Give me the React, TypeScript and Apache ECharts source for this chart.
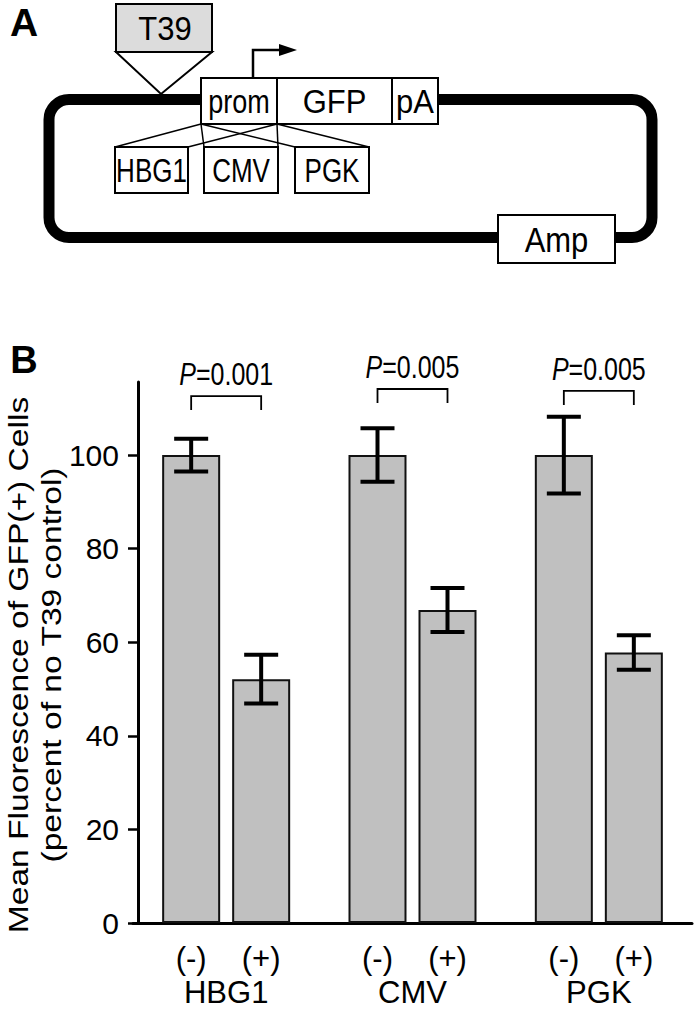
import React, { useEffect, useRef } from 'react';
import * as echarts from 'echarts';

// ---------- data ----------
const groups = ['HBG1', 'CMV', 'PGK'];
const conditions = ['(-)', '(+)'];
const minusMeans = [100, 100, 100];
const plusMeans = [52.1, 66.9, 57.8];
const minusErr = [3.5, 5.7, 8.2];
const plusErr = [5.2, 4.7, 3.7];
const pValues = ['0.001', '0.005', '0.005'];
const bracketLevels = [112.6, 114.1, 113.7];
const yTicks = [0, 20, 40, 60, 80, 100];
const promoters = ['HBG1', 'CMV', 'PGK'];

const FONT = '"Liberation Sans", Arial, Helvetica, sans-serif';
const BAR_W = 58;
const BAR_GAP_PX = 12;
const HALF = (BAR_W + BAR_GAP_PX) / 2;

function txt(text: string, x: number, y: number, size: number, opts: any = {}) {
  return {
    type: 'text',
    x,
    y,
    rotation: opts.rotation || 0,
    scaleX: opts.scaleX || 1,
    scaleY: opts.scaleY || 1,
    z: 20,
    style: {
      text,
      x: 0,
      y: 0,
      font: `${opts.weight || 'normal'} ${size}px ${FONT}`,
      fontSize: size,
      fontFamily: FONT,
      fontWeight: opts.weight || 'normal',
      fill: '#000',
      align: opts.align || 'center',
      verticalAlign: 'middle',
      textAlign: opts.align || 'center',
      textVerticalAlign: 'middle',
    },
  };
}

function box(x: number, y: number, w: number, h: number, fill = '#fff') {
  return {
    type: 'rect',
    z: 10,
    shape: { x, y, width: w, height: h },
    style: { fill, stroke: '#000', lineWidth: 2 },
  };
}

function seg(x1: number, y1: number, x2: number, y2: number, w = 1.5) {
  return {
    type: 'line',
    z: 9,
    shape: { x1, y1, x2, y2 },
    style: { stroke: '#000', lineWidth: w },
  };
}

function panelA() {
  const els: any[] = [];
  // plasmid backbone
  els.push({
    type: 'rect',
    z: 5,
    shape: { x: 49, y: 99.5, width: 603, height: 138, r: 20 },
    style: { fill: 'none', stroke: '#000', lineWidth: 11 },
  });
  // T39 insert
  els.push(box(116, 4, 96, 48, '#dcdcdc'));
  els.push({
    type: 'polygon',
    z: 10,
    shape: { points: [[116, 52], [212, 52], [161, 94]] },
    style: { fill: '#fff', stroke: '#000', lineWidth: 2 },
  });
  els.push(txt('T39', 165, 28, 31, { scaleY: 1.1 }));
  // expression cassette
  els.push(box(201, 78, 76, 46));
  els.push(box(277, 78, 115, 46));
  els.push(box(392, 78, 46, 46));
  els.push(txt('prom', 239, 101, 27, { scaleY: 1.25 }));
  els.push(txt('GFP', 334.5, 101, 31, { scaleY: 1.1 }));
  els.push(txt('pA', 415, 101, 31, { scaleY: 1.1 }));
  // transcription arrow
  els.push({
    type: 'polyline',
    z: 10,
    shape: { points: [[253, 78], [253, 50], [284, 50]] },
    style: { stroke: '#000', lineWidth: 2.5, fill: 'none' },
  });
  els.push({
    type: 'polygon',
    z: 10,
    shape: { points: [[279, 44], [297, 50], [279, 56]] },
    style: { fill: '#000' },
  });
  // promoter choices
  const pBoxes = [
    [115, 73],
    [204, 74],
    [295, 74],
  ];
  pBoxes.forEach(([bx, bw], i) => {
    els.push(seg(201, 124, bx, 147));
    els.push(seg(277, 124, bx + bw, 147));
    els.push(box(bx, 147, bw, 46));
    els.push(txt(promoters[i], bx + bw / 2, 170, 26, { scaleY: 1.3 }));
  });
  // Amp
  els.push(box(498, 215, 117, 48));
  els.push(txt('Amp', 556.5, 240, 31, { scaleY: 1.15 }));
  // panel letters
  els.push(txt('A', 24, 22, 39, { weight: 'bold' }));
  els.push(txt('B', 24, 360, 38, { weight: 'bold' }));
  // y axis title
  els.push(
    txt('Mean Fluorescence of GFP(+) Cells', 18, 665, 28, {
      rotation: Math.PI / 2,
      scaleX: 1.2,
    })
  );
  els.push(
    txt('(percent of no T39 control)', 51, 665, 28, {
      rotation: Math.PI / 2,
      scaleX: 1.2,
    })
  );
  return els;
}

function errorSeries(means: number[], errs: number[], sign: number) {
  return {
    type: 'custom',
    z: 6,
    silent: true,
    clip: false,
    data: means.map((m, i) => [i, m - errs[i], m + errs[i]]),
    encode: { x: 0, y: [1, 2] },
    renderItem: (_p: any, api: any) => {
      const lo = api.coord([api.value(0), api.value(1)]);
      const hi = api.coord([api.value(0), api.value(2)]);
      const x = lo[0] + sign * HALF;
      const st = { stroke: '#000', lineWidth: 4 };
      return {
        type: 'group',
        children: [
          { type: 'line', shape: { x1: x, y1: lo[1], x2: x, y2: hi[1] }, style: st },
          { type: 'line', shape: { x1: x - 17, y1: hi[1], x2: x + 17, y2: hi[1] }, style: st },
          { type: 'line', shape: { x1: x - 17, y1: lo[1], x2: x + 17, y2: lo[1] }, style: st },
        ],
      };
    },
  };
}

function bracketSeries() {
  return {
    type: 'custom',
    z: 6,
    silent: true,
    clip: false,
    data: bracketLevels.map((v, i) => [i, v]),
    encode: { x: 0, y: 1 },
    renderItem: (p: any, api: any) => {
      const c = api.coord([api.value(0), api.value(1)]);
      const xl = c[0] - HALF;
      const xr = c[0] + HALF;
      const y = c[1];
      return {
        type: 'group',
        children: [
          {
            type: 'polyline',
            shape: { points: [[xl, y + 14], [xl, y], [xr, y], [xr, y + 14]] },
            style: { stroke: '#000', lineWidth: 1.8, fill: 'none' },
          },
          {
            type: 'text',
            x: c[0],
            y: y - 22,
            scaleY: 1.25,
            style: {
              text: '{i|P}=' + pValues[p.dataIndex],
              x: 0,
              y: 0,
              fontSize: 25,
              fontFamily: FONT,
              fill: '#000',
              align: 'center',
              verticalAlign: 'middle',
              rich: {
                i: { fontStyle: 'italic', fontSize: 25, fontFamily: FONT, fill: '#000' },
              },
            },
          },
        ],
      };
    },
  };
}

export default function App() {
  const ref = useRef<HTMLDivElement>(null);
  useEffect(() => {
    document.body.style.margin = '0';
    const chart = echarts.init(ref.current!, null, { renderer: 'svg' });
    const barLabel = {
      show: true,
      position: 'bottom',
      distance: 20,
      formatter: '{a}',
      fontSize: 31,
      fontFamily: FONT,
      color: '#000',
    };
    chart.setOption({
      animation: false,
      backgroundColor: '#fff',
      textStyle: { fontFamily: FONT },
      grid: { left: 133, right: 8, top: 382, bottom: 86, containLabel: false },
      xAxis: {
        type: 'category',
        data: groups,
        axisLine: { show: true, lineStyle: { color: '#000', width: 3 } },
        axisTick: { show: false },
        axisLabel: { fontSize: 31, color: '#000', margin: 54, fontFamily: FONT },
        splitLine: { show: false },
      },
      yAxis: {
        type: 'value',
        min: 0,
        max: 115.6,
        offset: -5,
        axisLine: { show: true, lineStyle: { color: '#000', width: 3 } },
        axisTick: {
          show: true,
          length: 10,
          customValues: yTicks,
          lineStyle: { color: '#000', width: 2.5 },
        },
        axisLabel: {
          customValues: yTicks,
          fontSize: 30,
          color: '#000',
          margin: 19,
          fontFamily: FONT,
          padding: [14, 0, 0, 0],
        },
        splitLine: { show: false },
      },
      series: [
        {
          name: conditions[0],
          type: 'bar',
          data: minusMeans,
          barWidth: BAR_W,
          barGap: ((BAR_GAP_PX / BAR_W) * 100).toFixed(1) + '%',
          itemStyle: { color: '#c0c0c0', borderColor: '#111', borderWidth: 2 },
          label: barLabel,
          z: 3,
        },
        {
          name: conditions[1],
          type: 'bar',
          data: plusMeans,
          barWidth: BAR_W,
          barGap: ((BAR_GAP_PX / BAR_W) * 100).toFixed(1) + '%',
          itemStyle: { color: '#c0c0c0', borderColor: '#111', borderWidth: 2 },
          label: barLabel,
          z: 3,
        },
        errorSeries(minusMeans, minusErr, -1),
        errorSeries(plusMeans, plusErr, 1),
        bracketSeries(),
      ],
      graphic: panelA(),
    });
    return () => chart.dispose();
  }, []);
  return <div ref={ref} style={{ width: 700, height: 1009 }} />;
}
